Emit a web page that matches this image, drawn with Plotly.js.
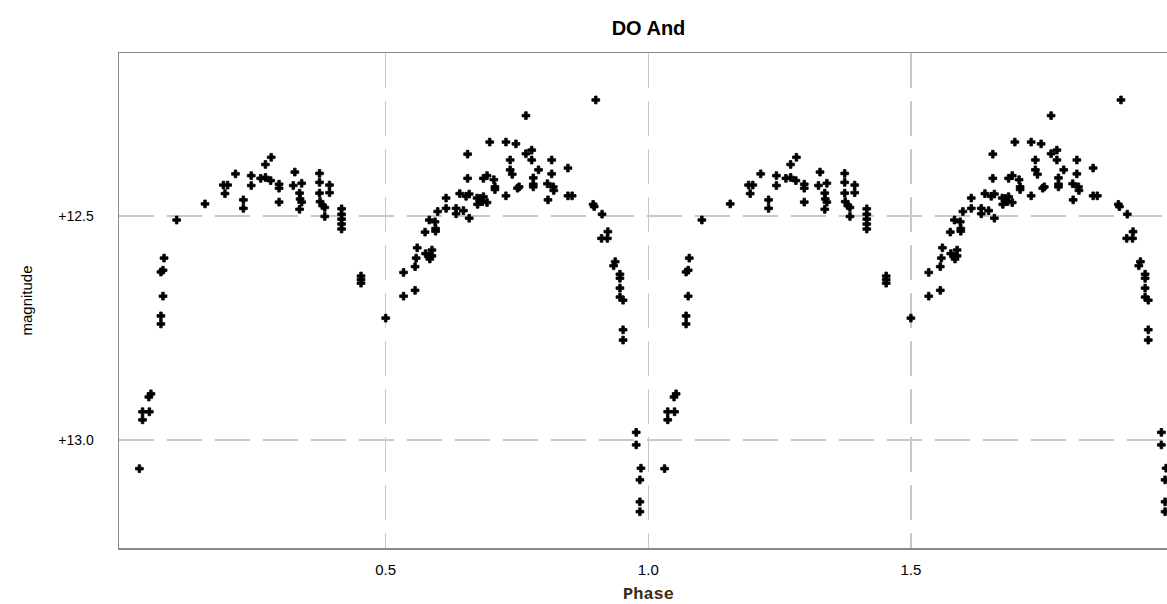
<!DOCTYPE html>
<html>
<head>
<meta charset="utf-8">
<script src="https://cdn.plot.ly/plotly-3.0.1.min.js"></script>
<style>
  html, body { margin: 0; padding: 0; background: #ffffff; overflow: hidden; }
  #chart { width: 1190px; height: 604px; }
</style>
</head>
<body>
<div id="chart"></div>
<script>
var phase = [
  0.031, 0.037, 0.037, 0.050, 0.049, 0.053, 0.072, 0.072, 0.076, 0.072, 0.076, 0.078, 0.102,
  0.156, 0.191, 0.199, 0.194, 0.214, 0.229, 0.229, 0.244, 0.244, 0.262, 0.271, 0.281, 0.271, 0.282,
  0.297, 0.297, 0.297, 0.327, 0.324, 0.340, 0.336, 0.337, 0.340, 0.336,
  0.374, 0.374, 0.374, 0.375, 0.380, 0.384, 0.384, 0.393, 0.393,
  0.416, 0.416, 0.416, 0.416, 0.416, 0.453, 0.453, 0.453,
  0.500, 0.534, 0.534, 0.556, 0.560, 0.558, 0.556, 0.575, 0.576, 0.583, 0.588, 0.588, 0.584,
  0.583, 0.594, 0.595, 0.595, 0.599, 0.615, 0.615, 0.634, 0.634, 0.648, 0.659, 0.641, 0.653, 0.659,
  0.656, 0.656, 0.674, 0.680, 0.686, 0.675, 0.684, 0.693, 0.686, 0.693, 0.706, 0.708, 0.708,
  0.698, 0.729, 0.748, 0.767, 0.737, 0.737, 0.741, 0.729, 0.767, 0.778, 0.778, 0.751, 0.754,
  0.781, 0.781, 0.781, 0.791, 0.816, 0.816, 0.808, 0.819, 0.820, 0.809, 0.847, 0.847, 0.855,
  0.900, 0.895, 0.897, 0.912, 0.923, 0.911, 0.922, 0.937, 0.934, 0.946, 0.946, 0.946, 0.946,
  0.952, 0.952, 0.952, 0.977, 0.977, 0.986, 0.984, 0.984, 0.984
];
var magnitude = [
  13.064, 12.955, 12.937, 12.937, 12.904, 12.897, 12.741, 12.723, 12.679, 12.625, 12.621, 12.594, 12.509,
  12.473, 12.431, 12.431, 12.450, 12.406, 12.464, 12.483, 12.410, 12.432, 12.416, 12.414, 12.421, 12.385, 12.369,
  12.429, 12.438, 12.469, 12.402, 12.432, 12.427, 12.449, 12.462, 12.469, 12.485,
  12.405, 12.425, 12.449, 12.468, 12.477, 12.481, 12.501, 12.431, 12.448,
  12.484, 12.496, 12.507, 12.518, 12.529, 12.634, 12.642, 12.650,
  12.728, 12.626, 12.679, 12.666, 12.571, 12.594, 12.613, 12.536, 12.584, 12.591, 12.576, 12.589, 12.596,
  12.509, 12.513, 12.528, 12.534, 12.490, 12.460, 12.483, 12.483, 12.495, 12.488, 12.505, 12.450, 12.456, 12.451,
  12.362, 12.416, 12.460, 12.461, 12.457, 12.474, 12.468, 12.470, 12.416, 12.410, 12.419, 12.435, 12.441,
  12.335, 12.335, 12.339, 12.276, 12.375, 12.397, 12.407, 12.455, 12.361, 12.353, 12.375, 12.438, 12.435,
  12.415, 12.429, 12.435, 12.397, 12.375, 12.406, 12.428, 12.435, 12.443, 12.464, 12.393, 12.455, 12.455,
  12.241, 12.474, 12.479, 12.496, 12.535, 12.550, 12.550, 12.602, 12.611, 12.630, 12.639, 12.661, 12.681,
  12.688, 12.754, 12.777, 12.983, 13.011, 13.063, 13.089, 13.138, 13.160
];
var cycles = [0, 1];
var xTickVals = [0.5, 1.0, 1.5];
var xTickText = ["0.5", "1.0", "1.5"];
var yTickVals = [12.5, 13.0];
var yTickText = ["+12.5", "+13.0"];
var titleText = "DO And";
var xTitle = "Phase";
var yTitle = "magnitude";

// The light curve is plotted over two cycles of phase
var xs = [], ys = [];
cycles.forEach(function (c) {
  for (var i = 0; i < phase.length; i++) { xs.push(phase[i] + c); ys.push(magnitude[i]); }
});

var trace = {
  x: xs, y: ys, type: 'scatter', mode: 'markers',
  marker: { symbol: 'cross', size: 6.5, color: '#000000', line: { width: 0.8, color: '#000000' } },
  hoverinfo: 'skip', showlegend: false
};

var sans = 'Liberation Sans, Arial, sans-serif';
var layout = {
  width: 1190, height: 604,
  margin: { l: 119, r: 12, t: 53, b: 56 },
  paper_bgcolor: '#ffffff', plot_bgcolor: '#ffffff',
  font: { family: sans, size: 14, color: '#000000' },
  title: {
    text: '<b>' + titleText + '</b>',
    font: { family: sans, size: 20, color: '#000000' },
    x: 0.5, xref: 'paper', xanchor: 'center',
    y: 1 - 28 / 604, yref: 'container', yanchor: 'middle'
  },
  xaxis: {
    range: [-0.0078, 2.0086],
    tickmode: 'array', tickvals: xTickVals, ticktext: xTickText,
    ticks: '', showline: true, mirror: true, linecolor: '#8a8a8a', linewidth: 1.5,
    showgrid: true, gridcolor: '#c8c8c8', gridwidth: 1.5, griddash: '35px,13px',
    zeroline: false, ticklabelstandoff: 7,
    tickfont: { family: sans, size: 15, color: '#000000' },
    title: { text: xTitle, standoff: 15,
      font: { family: 'Liberation Mono, monospace', size: 17, color: '#3a2a10', weight: 'bold' } }
  },
  yaxis: {
    range: [13.2411, 12.1362],
    tickmode: 'array', tickvals: yTickVals, ticktext: yTickText,
    ticks: '', showline: true, mirror: true, linecolor: '#8a8a8a', linewidth: 1.5,
    showgrid: true, gridcolor: '#c8c8c8', gridwidth: 1.5, griddash: '35px,13px',
    zeroline: false, ticklabelstandoff: 21,
    tickfont: { family: sans, size: 14, color: '#000000' },
    title: { text: yTitle, standoff: 22,
      font: { family: sans, size: 15, color: '#000000' } }
  }
};

Plotly.newPlot('chart', [trace], layout, { staticPlot: true, displayModeBar: false });
</script>
</body>
</html>
